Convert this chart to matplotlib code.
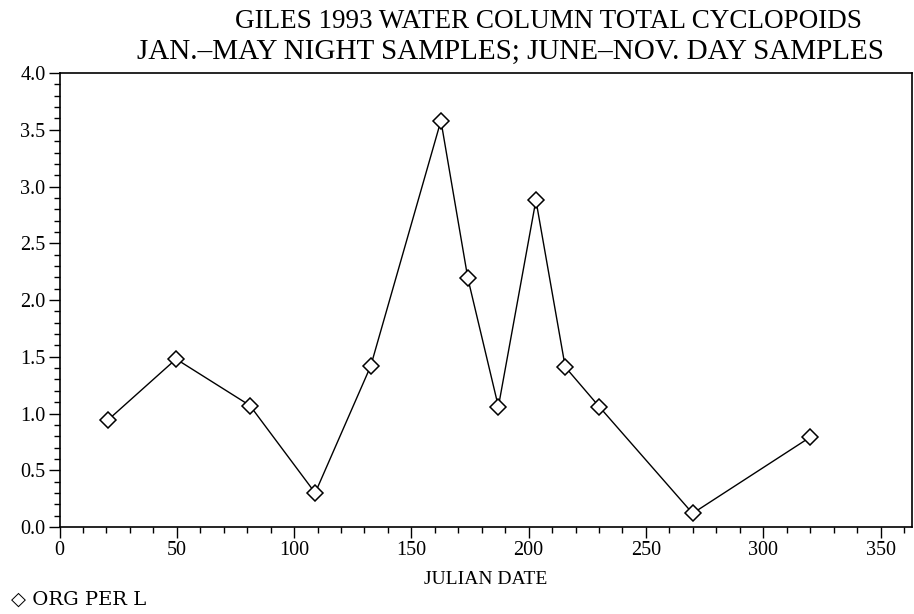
import matplotlib
matplotlib.use('Agg')
import matplotlib.pyplot as plt
from matplotlib.ticker import MultipleLocator

# Julian date of each sample and cyclopoid density (organisms per litre)
julian_date = [20.5, 49.7, 81.2, 109.0, 132.7, 162.6, 174.1, 187.1, 203.1, 215.6, 230.1, 269.9, 319.9]
org_per_l = [0.94, 1.48, 1.07, 0.30, 1.42, 3.58, 2.19, 1.06, 2.88, 1.41, 1.06, 0.12, 0.79]

title_lines = ['GILES 1993 WATER COLUMN TOTAL CYCLOPOIDS',
               'JAN.\u2013MAY NIGHT SAMPLES; JUNE\u2013NOV. DAY SAMPLES']

plt.rcParams['font.family'] = ['Liberation Serif', 'DejaVu Serif']

fig = plt.figure(figsize=(9.14, 6.14), dpi=100)
ax = fig.add_axes([0.0651, 0.1417, 0.9329, 0.7393])

ax.plot(julian_date, org_per_l, color='black', linewidth=1.0,
        marker='D', markersize=8.5, markerfacecolor='white',
        markeredgecolor='black', markeredgewidth=1.1)

ax.set_xlim(0, 363.5)
ax.set_ylim(0, 4.0)
ax.xaxis.set_major_locator(MultipleLocator(50))
ax.xaxis.set_minor_locator(MultipleLocator(10))
ax.yaxis.set_major_locator(MultipleLocator(0.5))
ax.yaxis.set_minor_locator(MultipleLocator(0.1))
ax.yaxis.set_major_formatter(matplotlib.ticker.FormatStrFormatter('%.1f'))

ax.tick_params(which='major', direction='out', length=8, width=1.0, labelsize=14.5, pad=2)
ax.tick_params(which='minor', direction='out', length=4, width=1.0)
for sp in ax.spines.values():
    sp.set_linewidth(1.2)

ax.set_xlabel('JULIAN DATE', fontsize=14, labelpad=8)

fig.text(0.600, 0.985, title_lines[0], ha='center', va='top', fontsize=19.5)
fig.text(0.559, 0.936, title_lines[1], ha='center', va='top', fontsize=21)

# legend entry below the axis
fig.text(0.012, 0.008, '\u25c7 ORG PER L', ha='left', va='bottom', fontsize=14,
         family=['DejaVu Serif', 'Liberation Serif'])

fig.savefig('out.png', dpi=100)
